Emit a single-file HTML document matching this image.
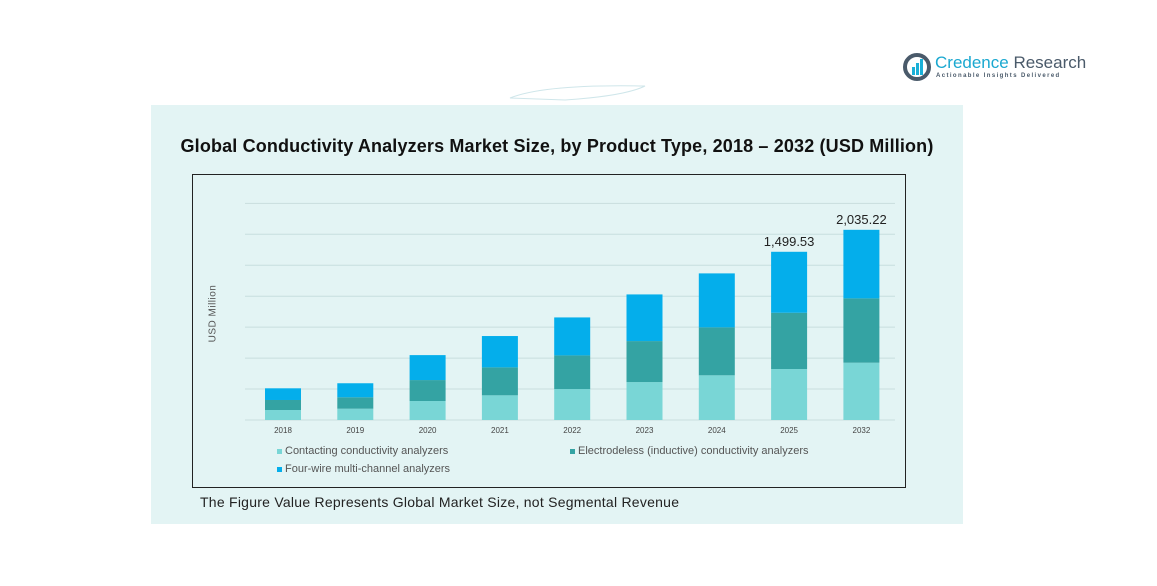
<!DOCTYPE html>
<html><head><meta charset="utf-8"><style>
body{margin:0;width:1157px;height:586px;background:#fff;font-family:"Liberation Sans",sans-serif;position:relative;overflow:hidden}
.abs{position:absolute}
</style></head><body>
<div class="abs" style="left:903px;top:52px;width:190px;height:30px">
<svg width="30" height="30" style="position:absolute;left:0;top:0"><circle cx="14" cy="15" r="12" fill="none" stroke="#4a5a6a" stroke-width="4"/><rect x="9" y="15" width="3" height="8" fill="#1ab0d8"/><rect x="13" y="11" width="3" height="12" fill="#1ab0d8"/><rect x="17" y="7" width="3" height="16" fill="#1ab0d8"/></svg>
<div class="abs" style="left:32px;top:1px;font-size:17px;color:#1aa8d0;white-space:nowrap">Credence <span style="color:#4a5a6a">Research</span></div>
<div class="abs" style="left:33px;top:21px;font-size:6px;letter-spacing:1.4px;font-weight:bold;color:#4a5a6a;white-space:nowrap">Actionable Insights Delivered</div>
</div>
<svg class="abs" style="left:505px;top:80px" width="150" height="24"><path d="M5 18 Q40 4 140 6 Q120 16 60 20 Z" fill="none" stroke="#cfe6ea" stroke-width="1"/></svg>
<div class="abs" style="left:151px;top:105px;width:812px;height:419px;background:#e3f4f4"></div>
<div class="abs" style="left:151px;width:812px;top:136px;text-align:center;font-size:18px;letter-spacing:0.15px;font-weight:bold;color:#111">Global Conductivity Analyzers Market Size, by Product Type, 2018 – 2032 (USD Million)</div>
<div class="abs" style="left:192px;top:174px;width:714px;height:314px;border:1px solid #222;box-sizing:border-box"></div>
<svg id="chart" class="abs" style="left:0;top:0" width="1157" height="586"></svg>
<div class="abs" style="left:183px;top:308px;width:60px;text-align:center;transform:rotate(-90deg);font-size:10px;color:#555;letter-spacing:0.5px">USD Million</div>
<div class="abs" style="left:277px;top:445px;font-size:11px;color:#555"><span style="display:inline-block;width:5px;height:5px;background:#79d6d6;margin-right:3px;vertical-align:middle"></span>Contacting conductivity analyzers</div>
<div class="abs" style="left:570px;top:445px;font-size:11px;color:#555"><span style="display:inline-block;width:5px;height:5px;background:#34a3a3;margin-right:3px;vertical-align:middle"></span>Electrodeless (inductive) conductivity analyzers</div>
<div class="abs" style="left:277px;top:463px;font-size:11px;color:#555"><span style="display:inline-block;width:5px;height:5px;background:#04aeeb;margin-right:3px;vertical-align:middle"></span>Four-wire multi-channel analyzers</div>
<div class="abs" style="left:200px;top:494px;font-size:14px;letter-spacing:0.25px;color:#222">The Figure Value Represents Global Market Size, not Segmental Revenue</div>
<script>
const categories=["2018","2019","2020","2021","2022","2023","2024","2025","2032"];
const contacting=[107,121,203,264,331,406,478,545,613];
const electrodeless=[107,122,224,299,360,438,513,602,688];
const fourWire=[125,150,267,335,406,499,577,652,733];
const totalLabels={"2025":"1,499.53","2032":"2,035.22"};
const gridValues=[331,662,993,1324,1655,1986,2317];
const svg=document.getElementById('chart');
const NS='http://www.w3.org/2000/svg';
const baseY=420,pxPer=190.3/2035.22,x0=265,step=72.3,bw=36;
const y=v=>baseY-v*pxPer;
const x=i=>x0+i*step;
function mk(t,a){const e=document.createElementNS(NS,t);for(const k in a)e.setAttribute(k,a[k]);svg.appendChild(e);return e;}
gridValues.forEach(g=>{const l=mk('line',{x1:245,x2:895,y1:y(g),y2:y(g),stroke:'#c8dede','stroke-width':1});

});
const bl=mk('line',{x1:245,x2:895,y1:baseY,y2:baseY,stroke:'#c8dede'});


const series=[[contacting,'#79d6d6','contacting'],[electrodeless,'#34a3a3','electrodeless'],[fourWire,'#04aeeb','four-wire']];
categories.forEach((c,i)=>{let acc=0;
series.forEach(([arr,col,nm])=>{const v=arr[i];const r=mk('rect',{x:x(i),y:y(acc+v),width:bw,height:v*pxPer,fill:col});


acc+=v;});
const t=mk('text',{x:x(i)+bw/2,y:433,'text-anchor':'middle','font-size':8,fill:'#444'});t.textContent=c;


if(totalLabels[c]){const tl=mk('text',{x:x(i)+bw/2,y:y(acc)-6,'text-anchor':'middle','font-size':13,fill:'#222'});tl.textContent=totalLabels[c];

}
});
</script>
</body></html>
